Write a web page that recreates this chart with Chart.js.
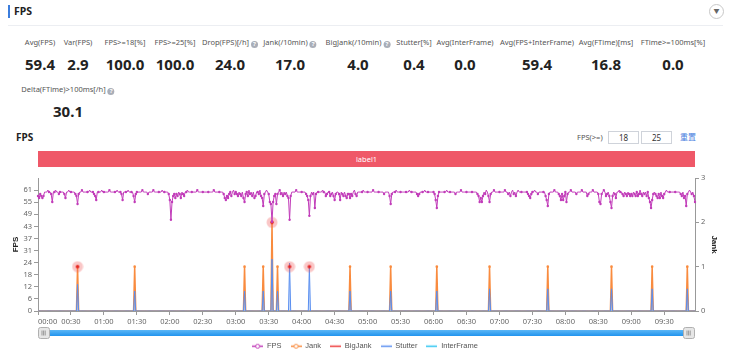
<!DOCTYPE html>
<html><head><meta charset="utf-8">
<script src="https://cdn.jsdelivr.net/npm/chart.js@4.4.1/dist/chart.umd.min.js"></script>
<style>
body{margin:0;width:730px;height:355px;background:#fff;font-family:"Noto Sans","Noto Sans CJK SC",sans-serif;position:relative;overflow:hidden;color:#333}
.abs{position:absolute;white-space:nowrap}
.hbar{left:8px;top:5px;width:2px;height:13px;background:#3b7ddd}
.htitle{left:14px;top:4px;font-size:10.5px;font-weight:bold;line-height:14px;color:#222}
.sep{left:8px;top:25px;width:715px;height:1px;background:#eceef2}
.dd{left:709px;top:4px;width:13px;height:13px;border:1px solid #c8c8c8;border-radius:50%;font-size:6px;line-height:13px;text-align:center;color:#666}
.lab{font-size:7.5px;color:#555;transform:translateX(-50%);line-height:10px}
.val{font-size:15px;font-weight:bold;color:#222;transform:translateX(-50%);line-height:20px}
.q{display:inline-block;width:7px;height:7px;border-radius:50%;background:#a9aeb8;color:#fff;font-size:6px;line-height:7px;text-align:center;margin-left:2px;vertical-align:-1px;font-weight:bold}
.ctitle{left:16px;top:130px;font-size:10px;font-weight:bold;line-height:14px;color:#222}
.fpsge{left:577px;top:132px;font-size:7.5px;line-height:10px;color:#555}
.inp{top:131px;width:29px;height:11px;border:1px solid #cfd3da;font-size:8px;line-height:11px;text-align:center;color:#333}
.reset{left:680px;top:131px;font-size:8px;line-height:11px;color:#4a80e0;font-family:"Noto Sans CJK SC",sans-serif}
.lbar{left:38px;top:151px;width:657px;height:16px;background:#ef5868;color:#fff;font-size:7.5px;line-height:16px;text-align:center}
#wrap{position:absolute;left:0;top:170px;width:730px;height:190px}
</style>
</head><body>
<div class="abs hbar"></div><div class="abs htitle">FPS</div>
<div class="abs dd">&#9660;</div>
<div class="abs sep"></div>
<div id="stats"></div>
<div class="abs ctitle">FPS</div>
<div class="abs fpsge">FPS(&gt;=)</div>
<div class="abs inp" style="left:608px">18</div>
<div class="abs inp" style="left:641px">25</div>
<div class="abs reset">重置</div>
<div class="abs lbar">label1</div>
<div id="wrap"><canvas id="c" width="730" height="190"></canvas></div>
<script>
// ---- summary statistics ----
const statLabels = ['Avg(FPS)','Var(FPS)','FPS>=18[%]','FPS>=25[%]','Drop(FPS)[/h]','Jank(/10min)','BigJank(/10min)','Stutter[%]','Avg(InterFrame)','Avg(FPS+InterFrame)','Avg(FTime)[ms]','FTime>=100ms[%]','Delta(FTime)>100ms[/h]'];
const statValues = ['59.4','2.9','100.0','100.0','24.0','17.0','4.0','0.4','0.0','59.4','16.8','0.0','30.1'];
const statHelp = [false,false,false,false,true,true,true,false,false,false,false,false,true];
// layout (column centres / rows)
const statX = [40,78,125,175,230,290,358,414,465,537,606,673,68];
const statRow = [0,0,0,0,0,0,0,0,0,0,0,0,1];

// ---- chart data ----
const fpsTickLabels = [0,6,12,18,24,31,37,43,49,55,61];
const fpsTickStep = 6.1;
const fpsAxisMax = 67.1;
const fpsValues = [
58,57,59,58,57,58,60,60,60,61, 60,60,59,55,60,60,61,60,60,59, 60,60,60,60,59,57,60,60,61,60,
60,60,60,60,59,58,54,59,60,60, 61,60,60,60,60,60,60,61,60,60, 60,59,58,56,60,60,60,60,61,60,
60,60,60,60,60,61,60,60,60,60, 60,60,61,60,60,60,59,56,60,60, 60,60,61,60,60,60,60,58,55,59,
60,60,60,60,60,61,60,60,60,60, 59,60,60,60,60,61,60,60,60,60, 60,60,60,61,60,60,60,60,60,59,
56,46,55,58,59,57,59,58,60,59, 57,60,59,58,60,60,61,60,60,60, 60,60,60,60,60,61,60,60,60,60,
60,60,60,60,60,60,60,60,60,60, 61,60,60,60,60,60,60,60,60,59, 57,56,58,57,59,60,58,60,61,59,
60,59,58,60,59,58,60,57,55,59, 60,58,61,59,60,58,60,57,58,60, 60,59,61,58,57,53,59,60,61,60,
59,55,54,45,55,58,59,54,59,60, 61,59,60,58,60,59,60,58,57,46, 58,60,60,60,60,61,60,60,60,60,
60,60,60,60,59,58,56,48,58,60, 59,60,52,59,60,60,60,60,60,61, 60,60,58,59,60,60,58,59,60,58,
56,59,60,60,59,56,60,59,58,60, 58,57,59,59,57,59,58,60,61,59, 58,60,60,60,60,60,61,60,60,60,
60,60,60,60,60,61,60,60,60,60, 60,60,60,60,60,59,60,60,60,60, 58,54,59,60,60,60,61,60,60,60,
60,60,60,60,60,60,60,60,61,60, 60,60,60,60,60,59,58,59,60,60, 60,60,61,60,60,60,60,60,60,60,
60,59,56,52,58,60,60,60,60,60, 60,60,61,60,60,60,60,60,60,60, 59,60,60,60,60,61,60,60,60,60,
60,60,60,60,60,60,60,60,60,60, 59,58,55,57,55,58,60,59,61,60, 58,55,59,60,60,61,60,60,60,60,
60,60,60,60,60,61,60,60,59,60, 58,60,61,59,60,58,60,61,60,60, 60,60,60,60,60,60,59,58,57,59,
60,60,61,60,60,59,60,60,60,60, 60,60,58,56,53,59,60,60,60,60, 61,60,60,60,59,58,56,59,56,58,
60,55,59,60,60,61,60,60,60,60, 59,60,60,60,60,61,60,60,60,60, 58,59,60,60,60,61,60,60,60,60,
59,55,54,59,60,61,60,58,59,60, 58,55,52,58,60,59,57,60,60,61, 60,60,59,58,60,59,58,60,59,58,
59,58,60,59,58,60,58,59,61,59, 58,60,59,60,58,60,57,55,52,56, 59,60,59,58,57,59,57,60,58,57,
59,60,61,60,60,60,60,60,60,60, 60,60,60,60,60,59,58,60,57,58, 53,59,60,61,60,59,60,58,55
];
const timeLabels = fpsValues.map((_, i) =>
  String(Math.floor(i / 60)).padStart(2, '0') + ':' + String(i % 60).padStart(2, '0'));

const jankTimes   = ['00:36','01:28','03:08','03:25','03:33','03:38','04:44','05:21','06:03','06:51','07:44','08:42','09:19','09:51'];
const jankCounts  = [1,1,1,1,2,1,1,1,1,1,1,1,1,1];
const stutterTimes  = ['00:36','01:28','03:08','03:25','03:33','03:38','03:49','04:07','04:44','05:21','06:03','06:51','07:44','08:42','09:19','09:51'];
const stutterValues = [0.6,0.45,0.45,0.45,1.17,0.45,1.08,1.0,0.45,0.45,0.45,0.5,0.5,0.5,0.5,0.5];
const bigJankTimes  = ['00:36','03:33','03:49','04:07'];
const bigJankValues = [1,2,1,1];
const interFrameValue = 0;

function eventSeries(times, vals, empty) {
  return timeLabels.map(t => { const k = times.indexOf(t); return k >= 0 ? vals[k] : empty; });
}
const jankSeries = eventSeries(jankTimes, jankCounts, 0);
const stutterSeries = eventSeries(stutterTimes, stutterValues, 0);
const bigJankSeries = eventSeries(bigJankTimes, bigJankValues, null);
const interFrameSeries = timeLabels.map(() => interFrameValue);

// ---- stats HTML ----
const stats = document.getElementById('stats');
statLabels.forEach((l, i) => {
  const ly = statRow[i] ? 84 : 37, vy = statRow[i] ? 101 : 54;
  const a = document.createElement('div');
  a.className = 'abs lab'; a.style.left = statX[i] + 'px'; a.style.top = ly + 'px';
  a.innerHTML = l.replace(/&/g,'&amp;').replace(/</g,'&lt;').replace(/>/g,'&gt;') + (statHelp[i] ? '<span class="q">?</span>' : '');
  stats.appendChild(a);
  const b = document.createElement('div');
  b.className = 'abs val'; b.style.left = statX[i] + 'px'; b.style.top = vy + 'px';
  b.textContent = statValues[i];
  stats.appendChild(b);
});

// ---- icons ----
const COL = {fps:'#c13cb9', jank:'#f98b3e', big:'#ee3b3b', stutter:'#5a8ff0', inter:'#2ec6f2'};
function legendIcon(color, withDot) {
  const c = document.createElement('canvas'); c.width = 11; c.height = 7;
  const x = c.getContext('2d');
  x.strokeStyle = color; x.lineWidth = 1.5;
  x.beginPath(); x.moveTo(0, 3.5); x.lineTo(11, 3.5); x.stroke();
  if (withDot) {
    x.fillStyle = '#fff'; x.lineWidth = 1;
    x.beginPath(); x.arc(5.5, 3.5, 2, 0, Math.PI * 2); x.fill(); x.stroke();
  }
  return c;
}
const legendIcons = [legendIcon(COL.fps, true), legendIcon(COL.jank, true), legendIcon(COL.big, false), legendIcon(COL.stutter, false), legendIcon(COL.inter, false)];
const bigMark = (() => {
  const c = document.createElement('canvas'); c.width = 12; c.height = 12;
  const x = c.getContext('2d');
  x.fillStyle = 'rgba(240,95,95,0.35)'; x.beginPath(); x.arc(6, 6, 5.5, 0, Math.PI * 2); x.fill();
  x.fillStyle = '#e52424'; x.beginPath(); x.arc(6, 6, 1.8, 0, Math.PI * 2); x.fill();
  return c;
})();

const lastIdx = timeLabels.length - 1;
const sliderPlugin = {
  id: 'slider',
  afterDraw(chart) {
    const {ctx, chartArea: {left, right}} = chart;
    ctx.save();
    const g = ctx.createLinearGradient(0, 160, 0, 166);
    g.addColorStop(0, '#5cb7f6'); g.addColorStop(1, '#2194ee');
    ctx.fillStyle = g;
    ctx.fillRect(left + 6, 160, right - left - 12, 6);
    [left, right - 12].forEach(hx => {
      ctx.fillStyle = '#e6e6e6'; ctx.strokeStyle = '#b0b0b0'; ctx.lineWidth = 1;
      ctx.beginPath(); ctx.roundRect(hx + 0.5, 157.5, 11, 11, 2); ctx.fill(); ctx.stroke();
      ctx.strokeStyle = '#999';
      for (let k = 0; k < 3; k++) { ctx.beginPath(); ctx.moveTo(hx + 4 + k * 1.6, 160.5); ctx.lineTo(hx + 4 + k * 1.6, 165.5); ctx.stroke(); }
    });
    ctx.restore();
  }
};

const tickFont = {size: 7.5, family: '"Noto Sans", sans-serif'};
new Chart(document.getElementById('c'), {
  type: 'line',
  data: {
    labels: timeLabels,
    datasets: [
      {label: 'FPS', data: fpsValues, yAxisID: 'y', borderColor: COL.fps, backgroundColor: COL.fps, borderWidth: 1,
       pointRadius: c => (c.dataIndex % 5 === 0 || fpsValues[c.dataIndex] < 59.5) ? 1.2 : 0, pointBorderWidth: 0, order: 1},
      {label: 'Jank', data: jankSeries, yAxisID: 'y1', borderColor: COL.jank, backgroundColor: 'rgba(249,139,62,0.25)', fill: 'origin', borderWidth: 1.5,
       pointRadius: c => jankSeries[c.dataIndex] > 0 ? 1.3 : 0, pointBackgroundColor: COL.jank, pointBorderWidth: 0, order: 4},
      {label: 'BigJank', data: bigJankSeries, yAxisID: 'y1', showLine: false, borderColor: COL.big, backgroundColor: COL.big,
       pointStyle: bigMark, pointRadius: 5, order: 2},
      {label: 'Stutter', data: stutterSeries, yAxisID: 'y1', borderColor: COL.stutter, backgroundColor: 'rgba(110,160,240,0.35)', fill: 'origin', borderWidth: 1,
       pointRadius: 0, order: 3},
      {label: 'InterFrame', data: interFrameSeries, yAxisID: 'y1', borderColor: COL.inter, borderWidth: 1, pointRadius: 0, order: 5}
    ]
  },
  options: {
    responsive: false, animation: false, events: [],
    layout: {padding: {top: 8, left: 11, right: 11, bottom: 0}},
    plugins: {
      tooltip: {enabled: false},
      legend: {
        position: 'bottom',
        labels: {
          usePointStyle: true, pointStyleWidth: 11, padding: 9, color: '#555', font: {size: 7.5},
          generateLabels: chart => chart.data.datasets.map((d, i) => ({
            text: d.label, pointStyle: legendIcons[i], fillStyle: 'transparent', strokeStyle: 'transparent',
            lineWidth: 0, hidden: false, datasetIndex: i, fontColor: '#555'}))
        }
      }
    },
    scales: {
      x: {
        type: 'category', offset: false,
        afterBuildTicks: s => { s.ticks = s.ticks.filter(t => t.value % 30 === 0 || t.value === lastIdx); },
        afterFit: s => { s.height = 22.5; },
        ticks: {autoSkip: false, maxRotation: 0, align: 'inner', color: '#666', font: tickFont, padding: 2,
                callback: v => v === lastIdx ? '' : timeLabels[v]},
        grid: {drawOnChartArea: false, tickLength: 4, color: c => (c.tick && c.tick.value === lastIdx) ? 'rgba(0,0,0,0)' : '#999'},
        border: {color: '#999'}
      },
      y: {
        position: 'left', min: 0, max: fpsAxisMax,
        afterBuildTicks: s => { s.ticks = fpsTickLabels.map((l, i) => ({value: i * fpsTickStep})); },
        afterFit: s => { s.width = 27; },
        ticks: {color: '#666', font: tickFont, padding: 2, callback: (v, i) => fpsTickLabels[i]},
        grid: {drawOnChartArea: false, tickLength: 4, color: '#999'},
        border: {color: '#999'},
        title: {display: true, text: 'FPS', color: '#222', font: {size: 8, weight: 'bold'}, padding: 0}
      },
      y1: {
        position: 'right', min: 0, max: 3,
        afterFit: s => { s.width = 24; },
        ticks: {stepSize: 1, color: '#666', font: tickFont, padding: 2},
        grid: {drawOnChartArea: false, tickLength: 4, color: '#999'},
        border: {color: '#999'},
        title: {display: true, text: 'Jank', color: '#222', font: {size: 8, weight: 'bold'}, padding: 0}
      }
    }
  },
  plugins: [sliderPlugin]
});
</script>
</body></html>
